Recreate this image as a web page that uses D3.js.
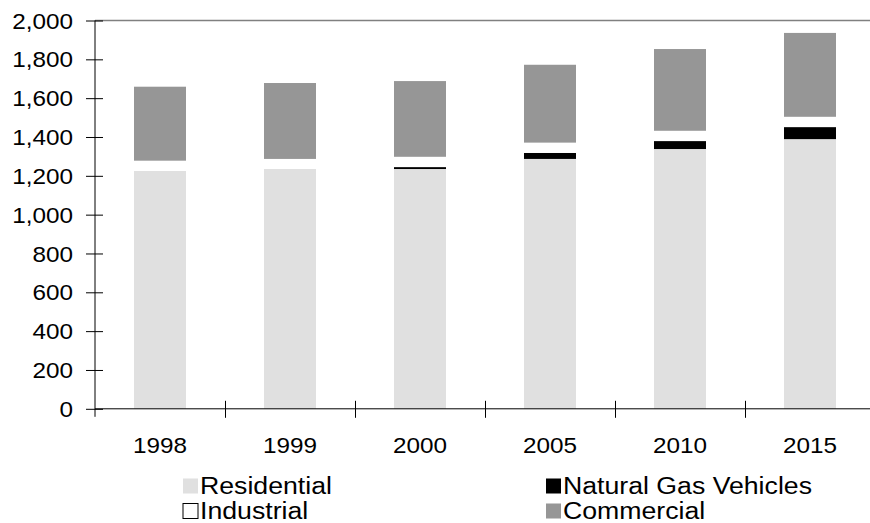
<!DOCTYPE html>
<html>
<head>
<meta charset="utf-8">
<script src="https://cdn.jsdelivr.net/npm/d3@7"></script>
<style>
  html, body { margin: 0; padding: 0; background: #fff; overflow: hidden; }
  svg { display: block; font-family: "Liberation Sans", Arial, sans-serif; }
</style>
</head>
<body>
<svg id="chart" width="870" height="523"></svg>
<script>
// ---- data ----
const years = ["1998", "1999", "2000", "2005", "2010", "2015"];
const residential = [1225, 1235, 1235, 1287, 1338, 1389];
const naturalGasVehicles = [0, 0, 10, 31, 41, 62];
const industrial = [53, 52, 53, 53, 53, 53];
const commercial = [381, 391, 390, 401, 421, 432];
const yTicks = [0, 200, 400, 600, 800, 1000, 1200, 1400, 1600, 1800, 2000];
const seriesNames = ["Residential", "Natural Gas Vehicles", "Industrial", "Commercial"];
const seriesColors = ["#e0e0e0", "#000000", "#ffffff", "#969696"];

// ---- layout ----
const plotLeft = 95, plotTop = 20.5, plotW = 780, plotH = 388.3;
const axisFont = 21.5, axisStretch = 1.13;
const legendFont = 23, legendStretch = 1.16;

const svg = d3.select("#chart");

const rows = years.map((yr, i) => ({
  year: yr,
  "Residential": residential[i],
  "Natural Gas Vehicles": naturalGasVehicles[i],
  "Industrial": industrial[i],
  "Commercial": commercial[i]
}));
const stacked = d3.stack().keys(seriesNames)(rows);

const x = d3.scaleBand().domain(years).range([plotLeft, plotLeft + plotW])
  .paddingInner(0.6).paddingOuter(0.3);
const xEdge = d3.scaleLinear().domain([0, years.length]).range([plotLeft, plotLeft + plotW]);
const y = d3.scaleLinear().domain([0, 2000]).range([plotTop + plotH, plotTop]);
const color = d3.scaleOrdinal().domain(seriesNames).range(seriesColors);

// plot area top border
svg.append("line")
  .attr("x1", plotLeft).attr("x2", plotLeft + plotW)
  .attr("y1", y(2000)).attr("y2", y(2000))
  .attr("stroke", "#808080").attr("stroke-width", 1.5);

// bars
svg.append("g").selectAll("g").data(stacked).join("g")
  .attr("fill", d => color(d.key))
  .selectAll("rect").data(d => d).join("rect")
  .attr("x", d => x(d.data.year))
  .attr("width", x.bandwidth())
  .attr("y", d => y(d[1]))
  .attr("height", d => y(d[0]) - y(d[1]));

// y axis
const yAxis = svg.append("g").attr("transform", `translate(${plotLeft},0)`)
  .call(d3.axisLeft(y).tickValues(yTicks).tickFormat(d3.format(",")).tickSize(9));
yAxis.select(".domain").attr("d", `M0,${y(2000)}V${y(0) + 8}`).attr("stroke", "#000");
yAxis.selectAll(".tick line").attr("x1", 8).attr("x2", -9).attr("stroke", "#000");
yAxis.selectAll(".tick text")
  .attr("x", 0).attr("dy", "0.35em")
  .attr("transform", `translate(-22,0) scale(${axisStretch},1)`)
  .attr("font-size", axisFont).attr("fill", "#000")
  .attr("font-family", "Liberation Sans, Arial, sans-serif");

// x axis: boundary ticks (cross)
const xAxisTicks = svg.append("g").attr("transform", `translate(0,${y(0)})`)
  .call(d3.axisBottom(xEdge).tickValues(d3.range(1, years.length + 1)).tickFormat("").tickSize(8));
xAxisTicks.select(".domain").attr("d", `M${plotLeft},0H${plotLeft + plotW}`).attr("stroke", "#000");
xAxisTicks.selectAll(".tick line").attr("y1", -8).attr("y2", 9).attr("stroke", "#000");

// x labels at category centers
const xLabels = svg.append("g").attr("transform", `translate(0,${y(0)})`)
  .call(d3.axisBottom(x).tickSize(0));
xLabels.select(".domain").remove();
xLabels.selectAll(".tick text")
  .attr("y", 0).attr("dy", 0)
  .attr("transform", `translate(0,44) scale(${axisStretch},1)`)
  .attr("font-size", axisFont).attr("fill", "#000")
  .attr("font-family", "Liberation Sans, Arial, sans-serif");

// legend
const legendItems = [
  { name: "Residential", col: 0, row: 0 },
  { name: "Natural Gas Vehicles", col: 1, row: 0 },
  { name: "Industrial", col: 0, row: 1 },
  { name: "Commercial", col: 1, row: 1 }
];
const legendX = [183, 546], legendY = [486, 511];
const leg = svg.append("g").selectAll("g").data(legendItems).join("g")
  .attr("transform", d => `translate(${legendX[d.col]},${legendY[d.row]})`);
leg.append("rect")
  .attr("x", 0).attr("y", -7.5).attr("width", 15).attr("height", 15)
  .attr("fill", d => color(d.name))
  .attr("stroke", d => d.name === "Industrial" ? "#000" : "none")
  .attr("stroke-width", 1);
leg.append("text")
  .attr("transform", `translate(17,0) scale(${legendStretch},1)`)
  .attr("dy", "0.35em")
  .attr("font-size", legendFont).attr("fill", "#000")
  .text(d => d.name);
</script>
</body>
</html>
